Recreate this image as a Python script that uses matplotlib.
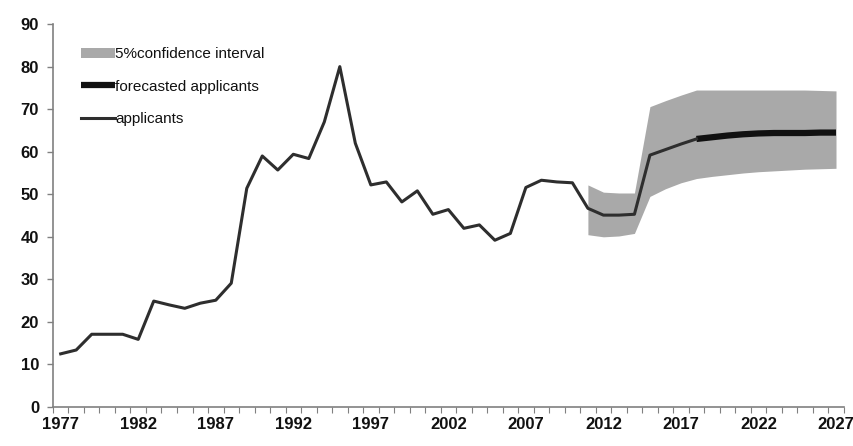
import matplotlib
matplotlib.use('Agg')
import matplotlib.pyplot as plt
import numpy as np

plt.rcParams['font.family'] = ['Liberation Sans', 'DejaVu Sans']

# actual applicants, 1977-2018
years_actual = list(range(1977, 2019))
applicants = [12.5, 13.4, 17.1, 17.1, 17.1, 15.9, 24.9, 24.0, 23.2, 24.4,
              25.1, 29.1, 51.4, 59.0, 55.7, 59.4, 58.4, 67.0, 80.0, 62.0,
              52.2, 52.9, 48.2, 50.8, 45.3, 46.4, 42.0, 42.8, 39.2, 40.8,
              51.6, 53.3, 52.9, 52.7, 46.7, 45.1, 45.1, 45.3, 59.2, 60.5,
              61.8, 63.0]

# forecast, 2018-2027
years_fc = list(range(2018, 2028))
forecast = [63.0, 63.4, 63.8, 64.1, 64.3, 64.4, 64.4, 64.4, 64.5, 64.5]

# confidence band, 2011-2027
years_ci = list(range(2011, 2028))
ci_low = [40.5, 40.0, 40.2, 40.8, 49.5, 51.3, 52.7, 53.7, 54.2, 54.6,
          55.0, 55.3, 55.5, 55.7, 55.9, 56.0, 56.1]
ci_high = [52.2, 50.5, 50.3, 50.3, 70.6, 72.0, 73.3, 74.5, 74.5, 74.5,
           74.5, 74.5, 74.5, 74.5, 74.5, 74.4, 74.3]

label_years = list(range(1977, 2028, 5))

fig = plt.figure(figsize=(8.54, 4.46), dpi=100)
ax = fig.add_axes([0.062, 0.0874, 0.926, 0.8586])

ax.fill_between(years_ci, ci_low, ci_high, color='#a9a9a9', linewidth=0,
                label='5%confidence interval')
ax.plot(years_fc, forecast, color='#111111', linewidth=4.5,
        solid_capstyle='butt', label='forecasted applicants')
ax.plot(years_actual, applicants, color='#2e2e2e', linewidth=2.2,
        label='applicants')

ax.set_xlim(1976.5, 2027.5)
ax.set_ylim(0, 90)
ax.set_yticks(range(0, 91, 10))
ax.set_xticks(label_years)
ax.set_xticks(np.arange(1976.5, 2028, 1), minor=True)

for s in ['top', 'right']:
    ax.spines[s].set_visible(False)
for s in ['left', 'bottom']:
    ax.spines[s].set_color('#808080')
    ax.spines[s].set_linewidth(1.2)

ax.tick_params(axis='y', direction='out', length=4, width=1, color='#808080',
               labelsize=12, pad=6, labelcolor='#111111')
ax.tick_params(axis='x', which='major', length=0, labelsize=12, pad=7,
               labelcolor='#111111')
ax.tick_params(axis='x', which='minor', direction='out', length=4, width=0.8,
               color='#808080')
for lab in ax.get_xticklabels() + ax.get_yticklabels():
    lab.set_fontweight('bold')

handles, labels = ax.get_legend_handles_labels()
leg = ax.legend(handles, labels, loc='upper left', bbox_to_anchor=(0.018, 0.975),
                frameon=False, fontsize=11, handlelength=2.2, handletextpad=0.05,
                labelspacing=1.2)
for t in leg.get_texts():
    t.set_color('#111111')

fig.savefig('out.png', dpi=100, facecolor='white')
